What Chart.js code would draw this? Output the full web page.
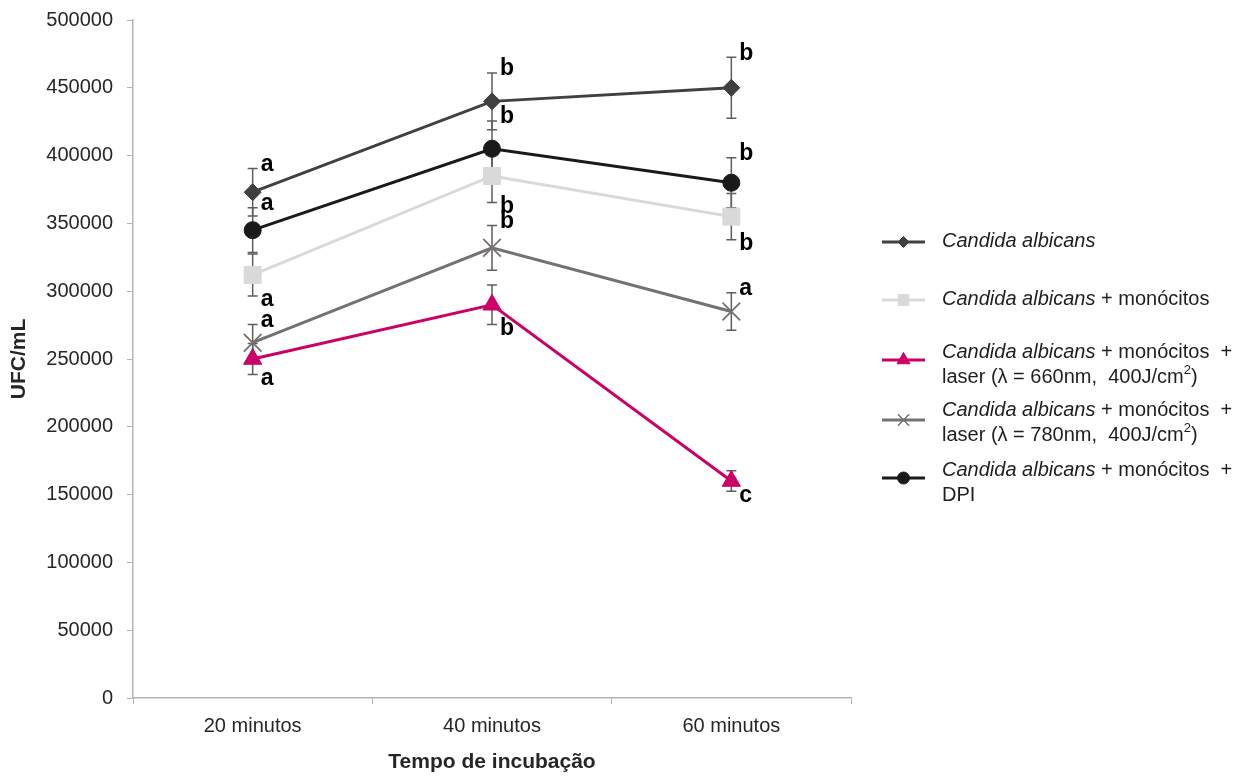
<!DOCTYPE html>
<html>
<head>
<meta charset="utf-8">
<script src="https://cdn.jsdelivr.net/npm/chart.js@4/dist/chart.umd.min.js"></script>
<style>
  body { margin: 0; background: #fff; }
</style>
</head>
<body>
<canvas id="chart" width="1260" height="776"></canvas>
<script>
// dados
const tempos = ["20 minutos", "40 minutos", "60 minutos"];

const caValores = [373000, 440000, 450000];
const caErros = [17500, 21000, 22500];
const caLetras = ["a", "b", "b"];

const monoValores = [312000, 385000, 355000];
const monoErros = [15500, 19500, 17000];
const monoLetras = ["a", "b", "b"];

const l660Valores = [250000, 290000, 160000];
const l660Erros = [11500, 14500, 7500];
const l660Letras = ["a", "b", "c"];

const l780Valores = [262000, 332000, 285000];
const l780Erros = [13500, 16500, 13800];
const l780Letras = ["a", "b", "a"];

const dpiValores = [345000, 405000, 380000];
const dpiErros = [16500, 20500, 18500];
const dpiLetras = ["a", "b", "b"];

// letra acima (up) ou abaixo (down) da barra de erro
const caLado = ["up", "up", "up"];
const monoLado = ["down", "down", "down"];
const l660Lado = ["down", "down", "down"];
const l780Lado = ["up", "up", "up"];
const dpiLado = ["up", "up", "up"];

const legendaTextos = [
    [[{ t: "Candida albicans", i: true }]],
    [[{ t: "Candida albicans", i: true }, { t: " + monócitos" }]],
    [[{ t: "Candida albicans", i: true }, { t: " + monócitos  +" }],
     [{ t: "laser (λ = 660nm,  400J/cm" }, { t: "2", sup: true }, { t: ")" }]],
    [[{ t: "Candida albicans", i: true }, { t: " + monócitos  +" }],
     [{ t: "laser (λ = 780nm,  400J/cm" }, { t: "2", sup: true }, { t: ")" }]],
    [[{ t: "Candida albicans", i: true }, { t: " + monócitos  +" }],
     [{ t: "DPI" }]]
];

const FONTE = '"Liberation Sans", Arial, sans-serif';

function serie(valores, erros, letras, lado, cor, estilo, raio, raioLeg) {
    return {
        data: valores,
        erros: erros,
        letras: letras,
        lado: lado,
        raioLeg: raioLeg,
        borderColor: cor,
        backgroundColor: cor,
        pointBackgroundColor: cor,
        pointBorderColor: cor,
        pointStyle: estilo,
        pointRadius: raio,
        pointHoverRadius: raio,
        pointBorderWidth: estilo === "crossRot" ? 1.8 : 1,
        borderWidth: 3,
        tension: 0
    };
}

// barras de erro desenhadas antes das linhas
const barrasErro = {
    id: "barrasErro",
    beforeDatasetsDraw(chart) {
        const ctx = chart.ctx;
        const y = chart.scales.y;
        ctx.save();
        ctx.strokeStyle = "#5e5e5e";
        ctx.lineWidth = 1.5;
        chart.data.datasets.forEach((ds, i) => {
            chart.getDatasetMeta(i).data.forEach((pt, j) => {
                const topo = y.getPixelForValue(ds.data[j] + ds.erros[j]);
                const base = y.getPixelForValue(ds.data[j] - ds.erros[j]);
                ctx.beginPath();
                ctx.moveTo(pt.x, topo); ctx.lineTo(pt.x, base);
                ctx.moveTo(pt.x - 5, topo); ctx.lineTo(pt.x + 5, topo);
                ctx.moveTo(pt.x - 5, base); ctx.lineTo(pt.x + 5, base);
                ctx.stroke();
            });
        });
        ctx.restore();
    },
    afterDatasetsDraw(chart) {
        // letras de significância
        const ctx = chart.ctx;
        const y = chart.scales.y;
        ctx.save();
        ctx.fillStyle = "#000";
        ctx.font = "bold 23px " + FONTE;
        ctx.textBaseline = "middle";
        ctx.textAlign = "left";
        chart.data.datasets.forEach((ds, i) => {
            chart.getDatasetMeta(i).data.forEach((pt, j) => {
                if (ds.lado[j] === "up") {
                    const topo = y.getPixelForValue(ds.data[j] + ds.erros[j]);
                    ctx.fillText(ds.letras[j], pt.x + 8, topo - 4);
                } else {
                    const base = y.getPixelForValue(ds.data[j] - ds.erros[j]);
                    ctx.fillText(ds.letras[j], pt.x + 8, base + 4);
                }
            });
        });
        ctx.restore();
    }
};

function textoRico(ctx, partes, x, y) {
    partes.forEach(p => {
        ctx.font = (p.i ? "italic " : "") + (p.sup ? "13px " : "20px ") + FONTE;
        ctx.fillText(p.t, x, p.sup ? y - 7 : y);
        x += ctx.measureText(p.t).width;
    });
}

const legenda = {
    id: "legendaLateral",
    afterDraw(chart) {
        const ctx = chart.ctx;
        const amostraY = [242, 300, 360, 420, 478];
        const textoY = [[241], [299], [352, 377], [410, 435], [470, 495]];
        ctx.save();
        chart.data.datasets.forEach((ds, i) => {
            const yy = amostraY[i];
            ctx.strokeStyle = ds.borderColor;
            ctx.lineWidth = 3;
            ctx.beginPath();
            ctx.moveTo(882, yy); ctx.lineTo(925, yy);
            ctx.stroke();
            ctx.fillStyle = ds.backgroundColor;
            ctx.lineWidth = ds.pointStyle === "crossRot" ? 1.5 : 1;
            Chart.helpers.drawPoint(ctx, {
                pointStyle: ds.pointStyle,
                radius: ds.raioLeg,
                rotation: 0,
                borderWidth: ctx.lineWidth
            }, 903.5, yy);
            ctx.fillStyle = "#1e1e1e";
            ctx.textBaseline = "middle";
            ctx.textAlign = "left";
            legendaTextos[i].forEach((linha, k) => textoRico(ctx, linha, 942, textoY[i][k]));
        });
        ctx.restore();
    }
};

new Chart(document.getElementById("chart").getContext("2d"), {
    type: "line",
    data: {
        labels: tempos,
        datasets: [
            serie(caValores, caErros, caLetras, caLado, "#404040", "rectRot", 8.5, 5.5),
            serie(monoValores, monoErros, monoLetras, monoLado, "#d9d9d9", "rect", 12, 7.5),
            serie(l660Valores, l660Erros, l660Letras, l660Lado, "#cc0066", "triangle", 10.5, 7.5),
            serie(l780Valores, l780Erros, l780Letras, l780Lado, "#757171", "crossRot", 12.5, 8),
            serie(dpiValores, dpiErros, dpiLetras, dpiLado, "#1a1a1a", "circle", 8.5, 6)
        ]
    },
    options: {
        responsive: false,
        animation: false,
        devicePixelRatio: 1,
        layout: { padding: { top: 20, right: 409, left: 0, bottom: 0 } },
        plugins: {
            legend: { display: false },
            tooltip: { enabled: false }
        },
        scales: {
            x: {
                offset: true,
                afterFit(scale) { scale.height = 78; },
                grid: {
                    offset: true,
                    drawOnChartArea: false,
                    color: "#b4b4b4",
                    tickLength: 6
                },
                border: { color: "#b4b4b4", width: 1.5 },
                ticks: {
                    color: "#262626",
                    padding: 10,
                    font: { family: FONTE, size: 20 }
                },
                title: {
                    display: true,
                    text: "Tempo de incubação",
                    color: "#262626",
                    padding: { top: 0, bottom: 1 },
                    font: { family: FONTE, size: 21, weight: "bold" }
                }
            },
            y: {
                min: 0,
                max: 500000,
                afterFit(scale) { scale.width = 133; scale.paddingTop = 0; },
                grid: {
                    drawOnChartArea: false,
                    color: "#b4b4b4",
                    tickLength: 6
                },
                border: { color: "#b4b4b4", width: 1.5 },
                ticks: {
                    stepSize: 50000,
                    color: "#262626",
                    padding: 14,
                    font: { family: FONTE, size: 20 },
                    callback: v => String(v)
                },
                title: {
                    display: true,
                    text: "UFC/mL",
                    color: "#262626",
                    padding: { top: 7, bottom: 0 },
                    font: { family: FONTE, size: 21, weight: "bold" }
                }
            }
        }
    },
    plugins: [barrasErro, legenda]
});
</script>
</body>
</html>
